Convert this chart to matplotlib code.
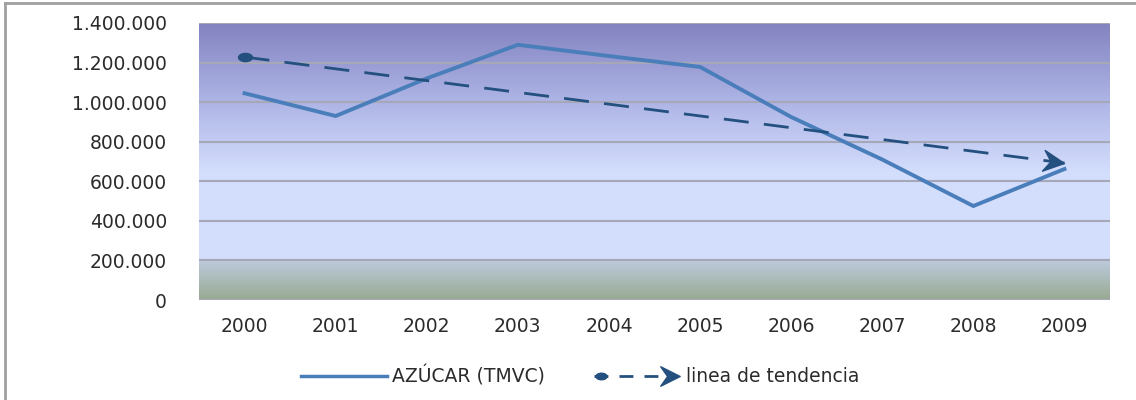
import matplotlib.pyplot as plt
import numpy as np
from matplotlib.lines import Line2D
from matplotlib.legend_handler import HandlerBase
from matplotlib.markers import MarkerStyle
from matplotlib.path import Path
from matplotlib.transforms import Affine2D
from matplotlib.ticker import FuncFormatter

# ----- data -----
years = ['2000', '2001', '2002', '2003', '2004', '2005', '2006', '2007', '2008', '2009']
azucar = [1045000, 930000, 1120000, 1290000, 1233000, 1178000, 925000, 710000, 475000, 662000]
trend_start = 1228000
trend_end = 692000
y_ticks = [0, 200000, 400000, 600000, 800000, 1000000, 1200000, 1400000]

line_color = '#4a7ebb'
trend_color = '#24507f'
text_color = '#2b2b2b'

plt.rcParams['font.family'] = ['DejaVu Sans']

# wide ellipse marker for the start of the trend line
ell = Path.unit_circle()
ell_marker = Path(ell.vertices * np.array([1.7, 1.0]), ell.codes)
# chevron arrow head, tip at the origin
chev_codes = [Path.MOVETO, Path.LINETO, Path.LINETO, Path.LINETO, Path.CLOSEPOLY]
chev_tip = Path([(-2, 1), (0, 0), (-2, -1), (-1.3, 0), (-2, 1)], chev_codes)
chev_mid = Path([(-1, 1), (1, 0), (-1, -1), (-0.3, 0), (-1, 1)], chev_codes)

fig = plt.figure(figsize=(11.36, 4), dpi=100)
ax = fig.add_axes([199 / 1136, 100 / 400, 911 / 1136, 277 / 400])

x = np.arange(len(years))
ax.set_xlim(-0.5, len(years) - 0.5)
ax.set_ylim(0, 1400000)

# ----- gradient background (value -> colour stops) -----
stops_v = [0, 199000, 201000, 650000, 1000000, 1400000]
stops_c = ['#98aa92', '#bccadc', '#d4defd', '#d3ddfc', '#aeb5e6', '#8383c0']
rgb = np.array([[int(c[i:i + 2], 16) / 255 for i in (1, 3, 5)] for c in stops_c])
vals = np.linspace(0, 1400000, 400)
grad = np.stack([np.interp(vals, stops_v, rgb[:, k]) for k in range(3)], axis=1)
ax.imshow(grad[:, None, :], origin='lower', aspect='auto',
          extent=[-0.5, len(years) - 0.5, 0, 1400000], zorder=0)

for s in ax.spines.values():
    s.set_visible(False)
ax.set_yticks(y_ticks)
ax.yaxis.set_major_formatter(FuncFormatter(lambda v, p: f'{int(v):,}'.replace(',', '.')))
ax.grid(axis='y', color='#a6a8b8', linewidth=1.5, zorder=1)
ax.axhline(0, color='#d8d8d8', linewidth=2, zorder=1)
ax.set_xticks(x)
ax.set_xticklabels(years)
ax.tick_params(axis='y', length=0, pad=23, labelsize=13.5, labelcolor=text_color)
ax.tick_params(axis='x', length=0, pad=12, labelsize=13.5, labelcolor=text_color)

# ----- series -----
ax.plot(x, azucar, color=line_color, linewidth=2.8, zorder=3, solid_joinstyle='miter')

trend = [trend_start, trend_end]
tx = [x[0], x[-1]]
ax.plot(tx, trend, color=trend_color, linewidth=2, dashes=(9, 5.5), zorder=4)
ax.plot(tx[0], trend[0], marker=ell_marker, markersize=10, color=trend_color, zorder=5)

# arrow head rotated along the trend line (angle in screen space)
p0, p1 = ax.transData.transform([(tx[0], trend[0]), (tx[1], trend[1])])
angle = np.degrees(np.arctan2(p1[1] - p0[1], p1[0] - p0[0]))
head = MarkerStyle(chev_tip, transform=Affine2D().rotate_deg(angle))
ax.plot(tx[1], trend[1], marker=head, markersize=30, color=trend_color,
        linestyle='none', zorder=5)


# ----- legend handler for the trend line -----
class TrendHandler(HandlerBase):
    def create_artists(self, legend, orig_handle, xdescent, ydescent, width, height, fontsize, trans):
        yc = height / 2 - ydescent
        ln = Line2D([0, width * 0.8], [yc, yc], color=trend_color, lw=2, dashes=(5, 4), transform=trans)
        dot = Line2D([0.08 * width], [yc], marker=ell_marker, markersize=8, color=trend_color,
                     linestyle='none', transform=trans)
        arr = Line2D([width * 0.88], [yc], marker=chev_mid, markersize=14, color=trend_color,
                     linestyle='none', transform=trans)
        return [ln, dot, arr]


h1 = Line2D([], [], color=line_color, linewidth=2.5)
h2 = Line2D([], [])
fig.legend([h1, h2], ['AZÚCAR (TMVC)', 'linea de tendencia'], loc='center',
           bbox_to_anchor=(580 / 1136, 1 - 376 / 400), ncol=2, frameon=False,
           handler_map={h2: TrendHandler()}, handlelength=4.6, columnspacing=2.6,
           handletextpad=0.3, prop={'family': 'DejaVu Sans', 'size': 13.5}, labelcolor=text_color)

# outer frame (only top and left visible in the crop)
fig.add_artist(Line2D([5 / 1136, 1], [1 - 3 / 400, 1 - 3 / 400], color='#a0a0a0', lw=2,
                      transform=fig.transFigure))
fig.add_artist(Line2D([5 / 1136, 5 / 1136], [0, 1 - 3 / 400], color='#a0a0a0', lw=2,
                      transform=fig.transFigure))

fig.savefig('out.png', dpi=100)
